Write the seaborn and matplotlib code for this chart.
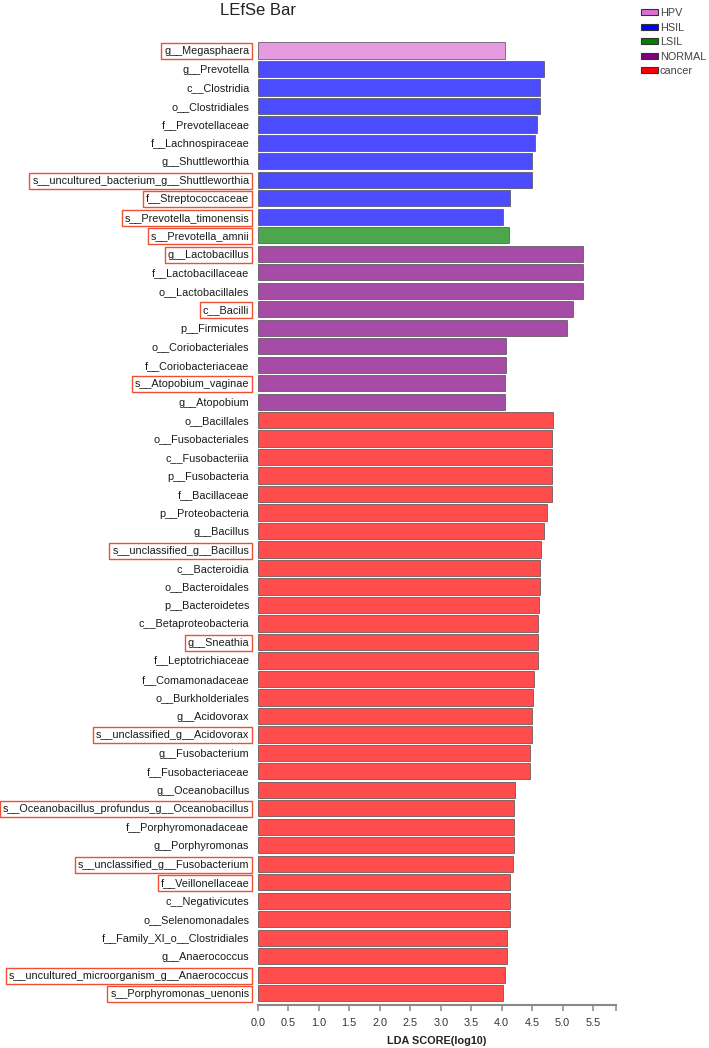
import matplotlib
matplotlib.use("Agg")
import matplotlib.pyplot as plt
from matplotlib.patches import Patch
import seaborn as sns
import pandas as pd

# ───────────────────────────── data ─────────────────────────────
features = [
    "g__Megasphaera",
    "g__Prevotella", "c__Clostridia", "o__Clostridiales", "f__Prevotellaceae",
    "f__Lachnospiraceae", "g__Shuttleworthia",
    "s__uncultured_bacterium_g__Shuttleworthia", "f__Streptococcaceae",
    "s__Prevotella_timonensis",
    "s__Prevotella_amnii",
    "g__Lactobacillus", "f__Lactobacillaceae", "o__Lactobacillales", "c__Bacilli",
    "p__Firmicutes", "o__Coriobacteriales", "f__Coriobacteriaceae",
    "s__Atopobium_vaginae", "g__Atopobium",
    "o__Bacillales", "o__Fusobacteriales", "c__Fusobacteriia", "p__Fusobacteria",
    "f__Bacillaceae", "p__Proteobacteria", "g__Bacillus",
    "s__unclassified_g__Bacillus", "c__Bacteroidia", "o__Bacteroidales",
    "p__Bacteroidetes", "c__Betaproteobacteria", "g__Sneathia",
    "f__Leptotrichiaceae", "f__Comamonadaceae", "o__Burkholderiales",
    "g__Acidovorax", "s__unclassified_g__Acidovorax", "g__Fusobacterium",
    "f__Fusobacteriaceae", "g__Oceanobacillus",
    "s__Oceanobacillus_profundus_g__Oceanobacillus", "f__Porphyromonadaceae",
    "g__Porphyromonas", "s__unclassified_g__Fusobacterium", "f__Veillonellaceae",
    "c__Negativicutes", "o__Selenomonadales", "f__Family_XI_o__Clostridiales",
    "g__Anaerococcus", "s__uncultured_microorganism_g__Anaerococcus",
    "s__Porphyromonas_uenonis",
]
lda_scores = [
    4.05,
    4.69, 4.63, 4.63, 4.58, 4.55, 4.49, 4.49, 4.13, 4.02,
    4.12,
    5.34, 5.34, 5.33, 5.17, 5.07, 4.07, 4.07, 4.06, 4.06,
    4.85, 4.83, 4.83, 4.83, 4.82, 4.75, 4.69, 4.64, 4.63, 4.63,
    4.62, 4.60, 4.60, 4.59, 4.53, 4.51, 4.49, 4.49, 4.47, 4.47,
    4.22, 4.21, 4.21, 4.21, 4.18, 4.14, 4.13, 4.14, 4.09, 4.08,
    4.06, 4.03,
]
groups = (["HPV"] * 1 + ["HSIL"] * 9 + ["LSIL"] * 1 + ["NORMAL"] * 9
          + ["cancer"] * 32)
group_names = ["HPV", "HSIL", "LSIL", "NORMAL", "cancer"]
group_colors = ["orchid", "#0000ff", "#008000", "#800080", "#ff0000"]

boxed = [
    "g__Megasphaera", "s__uncultured_bacterium_g__Shuttleworthia",
    "f__Streptococcaceae", "s__Prevotella_timonensis", "s__Prevotella_amnii",
    "g__Lactobacillus", "c__Bacilli", "s__Atopobium_vaginae",
    "s__unclassified_g__Bacillus", "g__Sneathia", "s__unclassified_g__Acidovorax",
    "s__Oceanobacillus_profundus_g__Oceanobacillus",
    "s__unclassified_g__Fusobacterium", "f__Veillonellaceae",
    "s__uncultured_microorganism_g__Anaerococcus", "s__Porphyromonas_uenonis",
]
x_ticks = [0.0, 0.5, 1.0, 1.5, 2.0, 2.5, 3.0, 3.5, 4.0, 4.5, 5.0, 5.5]

df = pd.DataFrame({"feature": features, "lda": lda_scores, "group": groups})

# ───────────────────────────── style ────────────────────────────
sns.set_style("white")
plt.rcParams["font.family"] = ["Liberation Sans", "DejaVu Sans"]

W, H = 709, 1048
fig = plt.figure(figsize=(W / 100, H / 100), dpi=100)
top_px, bot_px = 41.2, 1005
left_px, right_px = 257.7, 615.7
ax = fig.add_axes([left_px / W, 1 - bot_px / H,
                   (right_px - left_px) / W, (bot_px - top_px) / H])

sns.barplot(
    data=df, x="lda", y="feature", hue="group", order=features,
    hue_order=group_names, palette=dict(zip(group_names, group_colors)),
    dodge=False, orient="h", width=0.88, alpha=0.7, saturation=1,
    edgecolor="#4a4a4a", linewidth=0.7, legend=False, ax=ax,
)

ax.set_xlim(0, 5.87)
ax.set_ylim(51.64, -0.5)
ax.set_xticks(x_ticks)
ax.set_xticklabels([f"{t:.1f}" for t in x_ticks], fontsize=7.8, color="#333333")
ax.set_xticks([5.87], minor=True)
ax.tick_params(axis="x", which="both", direction="out", length=4, width=1.1,
               color="#888888", pad=5, bottom=True)
ax.set_ylabel("")
ax.set_xlabel("LDA SCORE(log10)", fontsize=7.8, fontweight="bold",
              color="#222222", labelpad=6)
ax.tick_params(axis="y", length=0, pad=6, labelsize=7.8, labelcolor="#1a1a1a")

for s in ["top", "right", "left"]:
    ax.spines[s].set_visible(False)
ax.spines["bottom"].set_color("#888888")
ax.spines["bottom"].set_linewidth(1.5)

for lbl in ax.get_yticklabels():
    if lbl.get_text() in boxed:
        lbl.set_bbox(dict(boxstyle="square,pad=0.28", fc="none",
                          ec="#ee5033", lw=1.0))

fig.text(220 / W, 1 - 3 / H, "LEfSe Bar", ha="left", va="top",
         fontsize=12, color="#222222")

handles = [Patch(facecolor=c, edgecolor="#333333", linewidth=0.8)
           for c in group_colors]
fig.legend(handles, group_names, loc="upper left",
           bbox_to_anchor=(641 / W, 1 - 8 / H), frameon=False, fontsize=7.8,
           handlelength=1.6, handleheight=0.5, handletextpad=0.15,
           labelspacing=0.42, borderpad=0, borderaxespad=0,
           labelcolor="#444444")

fig.savefig("out.png", dpi=100)
